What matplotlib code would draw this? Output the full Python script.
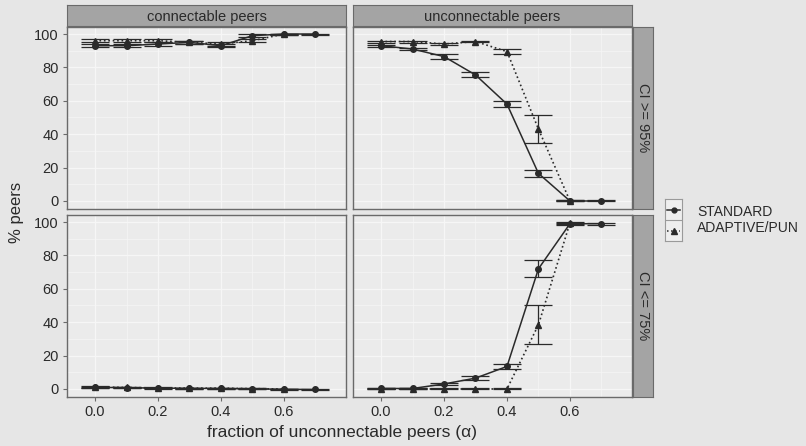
import matplotlib
matplotlib.use("Agg")
import matplotlib.pyplot as plt
from matplotlib.lines import Line2D

plt.rcParams['font.family'] = ['Liberation Sans', 'DejaVu Sans']

# fraction of unconnectable peers
alpha = [0.0, 0.1, 0.2, 0.3, 0.4, 0.5, 0.6, 0.7]
alpha_adaptive = alpha[:7]

col_labels = ["connectable peers", "unconnectable peers"]
row_labels = ["CI >= 95%", "CI <= 75%"]
series_names = ["STANDARD", "ADAPTIVE/PUN"]

# CI >= 95%
std_conn_hi = [93, 93, 94, 95, 93, 99, 100, 100]
std_conn_hi_err = [1, 1, 1, 0.8, 1, 1, 0.3, 0.3]
ada_conn_hi = [96, 96, 96, 95, 94, 96, 100]
ada_conn_hi_err = [1, 1, 1, 0.8, 1, 1, 0.3]
std_unconn_hi = [93, 91, 86.5, 75.5, 58, 16.5, 0, 0]
std_unconn_hi_err = [0.6, 0.6, 1.6, 1.5, 1.7, 2, 0.3, 0.3]
ada_unconn_hi = [95.5, 95.5, 94, 95.5, 89.5, 43, 0]
ada_unconn_hi_err = [0.6, 0.6, 0.5, 0.5, 1.5, 8.5, 0.3]

# CI <= 75%
std_conn_lo = [1.0, 0.8, 0.5, 0.4, 0.3, 0.1, -0.2, -0.3]
std_conn_lo_err = [0.4, 0.3, 0.3, 0.3, 0.3, 0.3, 0.2, 0.2]
ada_conn_lo = [1.2, 0.9, 0.6, 0.5, 0.5, 0.2, 0.0]
ada_conn_lo_err = [0.4, 0.3, 0.3, 0.3, 0.3, 0.3, 0.2]
std_unconn_lo = [0.3, 0.3, 3, 6.5, 13.5, 72, 99, 99]
std_unconn_lo_err = [0.3, 0.3, 0.8, 1, 1.4, 5, 0.5, 0.5]
ada_unconn_lo = [0, 0, 0, 0, 0, 38.5, 99.5]
ada_unconn_lo_err = [0.3, 0.3, 0.3, 0.3, 0.3, 11.5, 0.5]

panels = [
    [(std_conn_hi, std_conn_hi_err, ada_conn_hi, ada_conn_hi_err),
     (std_unconn_hi, std_unconn_hi_err, ada_unconn_hi, ada_unconn_hi_err)],
    [(std_conn_lo, std_conn_lo_err, ada_conn_lo, ada_conn_lo_err),
     (std_unconn_lo, std_unconn_lo_err, ada_unconn_lo, ada_unconn_lo_err)],
]

W, H = 806, 446
fig = plt.figure(figsize=(W / 100, H / 100), dpi=100)
fig.patch.set_facecolor("#e6e6e6")

def box(x0, y0, x1, y1):
    # pixel box (top-left origin) -> figure fraction rect
    return [x0 / W, 1 - y1 / H, (x1 - x0) / W, (y1 - y0) / H]

panel_bg = "#ebebeb"
strip_bg = "#a4a4a4"
edge = "#6a6a6a"
ink = "#2a2a2a"
grid = "#f6f6f6"

col_x = [(67, 346), (353, 632)]
row_y = [(27, 209), (215, 397)]

for r in range(2):
    for c in range(2):
        ax = fig.add_axes(box(col_x[c][0], row_y[r][0], col_x[c][1], row_y[r][1]))
        ax.set_facecolor(panel_bg)
        std, std_err, ada, ada_err = panels[r][c]
        # grid
        for v in [10, 30, 50, 70, 90]:
            ax.axhline(v, color=grid, lw=0.5, zorder=0)
        for v in [0.1, 0.3, 0.5, 0.7]:
            ax.axvline(v, color=grid, lw=0.5, zorder=0)
        for v in [0, 20, 40, 60, 80, 100]:
            ax.axhline(v, color=grid, lw=0.9, zorder=0)
        for v in [0.0, 0.2, 0.4, 0.6]:
            ax.axvline(v, color=grid, lw=0.9, zorder=0)

        ax.errorbar(alpha, std, yerr=std_err, color=ink, lw=1.1, marker="o",
                    ms=4, capsize=10, capthick=0.9, elinewidth=0.9, zorder=3)
        ax.errorbar(alpha_adaptive, ada, yerr=ada_err, color=ink, lw=1.2, ls=":",
                    marker="^", ms=4.5, capsize=10, capthick=0.9, elinewidth=0.9,
                    zorder=3)

        ax.set_xlim(-0.089, 0.797)
        ax.set_ylim(-4.8, 104.2)
        ax.set_xticks([0.0, 0.2, 0.4, 0.6])
        ax.set_yticks([0, 20, 40, 60, 80, 100])
        ax.tick_params(length=3, width=0.8, color=edge, labelcolor=ink, labelsize=10.5, pad=3)
        if c == 0:
            ax.set_yticklabels([str(v) for v in [0, 20, 40, 60, 80, 100]])
        else:
            ax.set_yticklabels([])
            ax.tick_params(axis="y", length=0)
        if r == 1:
            ax.set_xticklabels(["0.0", "0.2", "0.4", "0.6"])
        else:
            ax.set_xticklabels([])
            ax.tick_params(axis="x", length=0)
        for s in ax.spines.values():
            s.set_color(edge)
            s.set_linewidth(1.0)

# column strips
for c in range(2):
    sax = fig.add_axes(box(col_x[c][0], 5, col_x[c][1], 26))
    sax.set_facecolor(strip_bg)
    sax.set_xticks([]); sax.set_yticks([])
    for s in sax.spines.values():
        s.set_color(edge)
    sax.text(0.5, 0.45, col_labels[c], ha="center", va="center", fontsize=10.5, color=ink,
             transform=sax.transAxes)

# row strips
for r in range(2):
    sax = fig.add_axes(box(633, row_y[r][0], 653, row_y[r][1]))
    sax.set_facecolor(strip_bg)
    sax.set_xticks([]); sax.set_yticks([])
    for s in sax.spines.values():
        s.set_color(edge)
    sax.text(0.5, 0.5, row_labels[r], ha="center", va="center", fontsize=10.5, color=ink,
             rotation=-90, transform=sax.transAxes)

# axis titles
fig.text(17 / W, 1 - 212 / H, "% peers", rotation=90, ha="center", va="center",
         fontsize=12, color=ink)
fig.text(342 / W, 1 - 432 / H, "fraction of unconnectable peers (\u03b1)", ha="center",
         va="center", fontsize=12.5, color=ink)

# legend keys
lax = fig.add_axes(box(665, 199, 682, 241))
lax.set_facecolor("#eeeeee")
lax.set_xlim(0, 1); lax.set_ylim(0, 2)
lax.set_xticks([]); lax.set_yticks([])
for s in lax.spines.values():
    s.set_color("#9a9a9a")
lax.axhline(1, color="#9a9a9a", lw=0.8)
lax.add_line(Line2D([0.1, 0.9], [1.5, 1.5], color=ink, lw=1.1))
lax.plot([0.5], [1.5], marker="o", ms=3.5, color=ink)
lax.add_line(Line2D([0.1, 0.9], [0.5, 0.5], color=ink, lw=1.1, ls=":"))
lax.plot([0.5], [0.5], marker="^", ms=4, color=ink)
fig.text(697 / W, 1 - 212 / H, series_names[0], ha="left", va="center", fontsize=10, color=ink)
fig.text(697 / W, 1 - 228 / H, series_names[1], ha="left", va="center", fontsize=10, color=ink)

fig.savefig("out.png", dpi=100, facecolor=fig.get_facecolor())
